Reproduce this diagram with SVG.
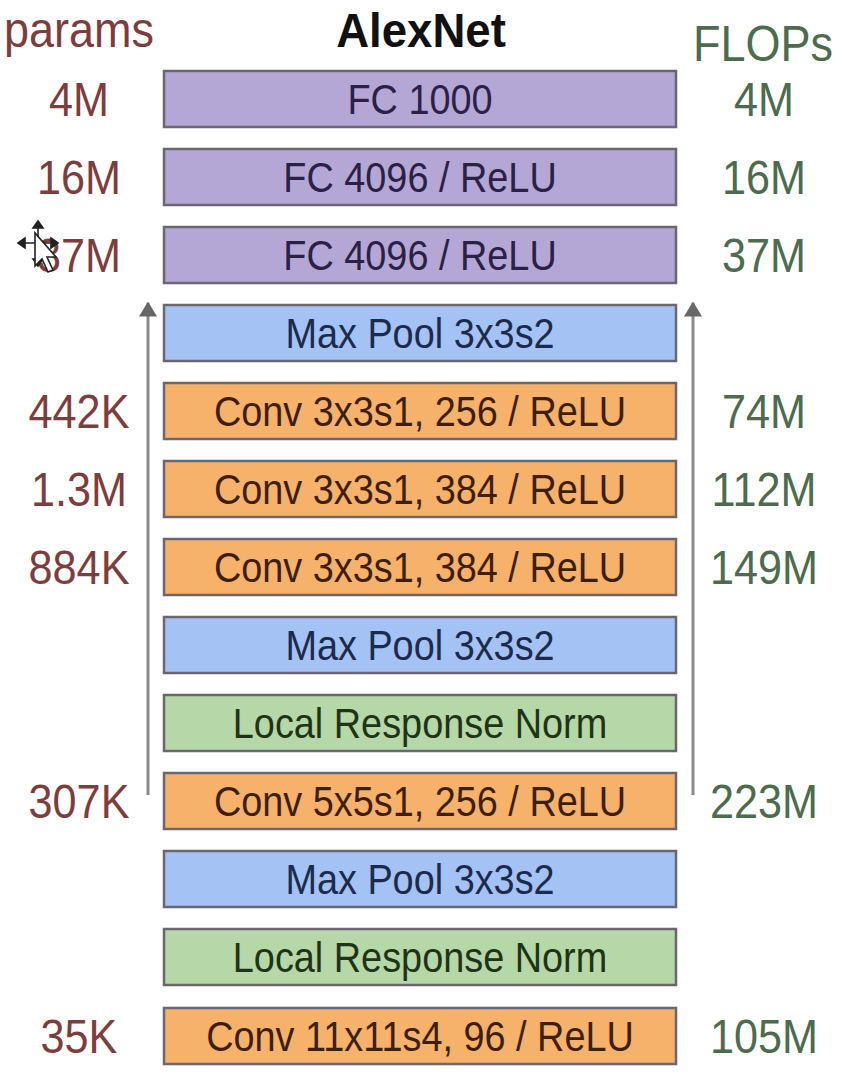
<svg xmlns="http://www.w3.org/2000/svg" width="844" height="1078" viewBox="0 0 844 1078">
  <defs>
    <style>
      .box { stroke: #6b6670; stroke-width: 2.5; }
      .fc { fill: #b4a7d6; }
      .pool { fill: #a4c2f4; }
      .conv { fill: #f6b26b; }
      .norm { fill: #b6d7a8; }
      text { font-family: "Liberation Sans", Arial, sans-serif; text-anchor: middle; }
      .lbl { font-size: 43px; }
      .side { font-size: 48px; }
      .head { font-size: 50px; }
      .par { fill: #7e3d3d; }
      .flo { fill: #4d6b4d; }
      .tfc { fill: #2a2145; }
      .tpool { fill: #1c2b4d; }
      .tconv { fill: #3e1f0c; }
      .tnorm { fill: #1f3315; }
      .arrow { stroke: #8a8a8a; stroke-width: 3; fill: none; }
    </style>
    <marker id="head" viewBox="0 0 10 12" refX="9" refY="6" markerWidth="7" markerHeight="6" orient="auto" markerUnits="strokeWidth">
      <path d="M0,0 L10,6 L0,12 z" fill="#676767"/>
    </marker>
  </defs>

  <rect width="844" height="1078" fill="#ffffff"/>

  <!-- column headings -->
  <g id="headings">
    <text class="head par" transform="translate(79,47) scale(0.9,1)">params</text>
    <text font-size="48" font-weight="bold" fill="#111" transform="translate(421,47) scale(0.95,1)">AlexNet</text>
    <text class="head flo" transform="translate(763,61) scale(0.9,1)">FLOPs</text>
  </g>

  <!-- data flow connectors -->
  <g id="connectors">
    <line class="arrow" x1="148" y1="795" x2="148" y2="303" marker-end="url(#head)"/>
    <line class="arrow" x1="693" y1="795" x2="693" y2="303" marker-end="url(#head)"/>
  </g>

  <!-- layers, top to bottom -->
  <g id="fc1000">
    <rect class="box fc" x="164" y="71" width="512" height="56"/>
    <text class="lbl tfc" transform="translate(420,114) scale(0.88,1)">FC 1000</text>
    <text class="side par" transform="translate(79,116) scale(0.9,1)">4M</text>
    <text class="side flo" transform="translate(764,116) scale(0.9,1)">4M</text>
  </g>
  <g id="fc4096b">
    <rect class="box fc" x="164" y="149" width="512" height="56"/>
    <text class="lbl tfc" transform="translate(420,192) scale(0.88,1)">FC 4096 / ReLU</text>
    <text class="side par" transform="translate(79,194) scale(0.9,1)">16M</text>
    <text class="side flo" transform="translate(764,194) scale(0.9,1)">16M</text>
  </g>
  <g id="fc4096a">
    <rect class="box fc" x="164" y="227" width="512" height="56"/>
    <text class="lbl tfc" transform="translate(420,270) scale(0.88,1)">FC 4096 / ReLU</text>
    <text class="side par" transform="translate(79,272) scale(0.9,1)">37M</text>
    <text class="side flo" transform="translate(764,272) scale(0.9,1)">37M</text>
  </g>
  <g id="pool3">
    <rect class="box pool" x="164" y="305" width="512" height="56"/>
    <text class="lbl tpool" transform="translate(420,348) scale(0.88,1)">Max Pool 3x3s2</text>
  </g>
  <g id="conv5">
    <rect class="box conv" x="164" y="383" width="512" height="56"/>
    <text class="lbl tconv" transform="translate(420,426) scale(0.88,1)">Conv 3x3s1, 256 / ReLU</text>
    <text class="side par" transform="translate(79,428) scale(0.9,1)">442K</text>
    <text class="side flo" transform="translate(764,428) scale(0.9,1)">74M</text>
  </g>
  <g id="conv4">
    <rect class="box conv" x="164" y="461" width="512" height="56"/>
    <text class="lbl tconv" transform="translate(420,504) scale(0.88,1)">Conv 3x3s1, 384 / ReLU</text>
    <text class="side par" transform="translate(79,506) scale(0.9,1)">1.3M</text>
    <text class="side flo" transform="translate(764,506) scale(0.9,1)">112M</text>
  </g>
  <g id="conv3">
    <rect class="box conv" x="164" y="539" width="512" height="56"/>
    <text class="lbl tconv" transform="translate(420,582) scale(0.88,1)">Conv 3x3s1, 384 / ReLU</text>
    <text class="side par" transform="translate(79,584) scale(0.9,1)">884K</text>
    <text class="side flo" transform="translate(764,584) scale(0.9,1)">149M</text>
  </g>
  <g id="pool2">
    <rect class="box pool" x="164" y="617" width="512" height="56"/>
    <text class="lbl tpool" transform="translate(420,660) scale(0.88,1)">Max Pool 3x3s2</text>
  </g>
  <g id="norm2">
    <rect class="box norm" x="164" y="695" width="512" height="56"/>
    <text class="lbl tnorm" transform="translate(420,738) scale(0.88,1)">Local Response Norm</text>
  </g>
  <g id="conv2">
    <rect class="box conv" x="164" y="773" width="512" height="56"/>
    <text class="lbl tconv" transform="translate(420,816) scale(0.88,1)">Conv 5x5s1, 256 / ReLU</text>
    <text class="side par" transform="translate(79,818) scale(0.9,1)">307K</text>
    <text class="side flo" transform="translate(764,818) scale(0.9,1)">223M</text>
  </g>
  <g id="pool1">
    <rect class="box pool" x="164" y="851" width="512" height="56"/>
    <text class="lbl tpool" transform="translate(420,894) scale(0.88,1)">Max Pool 3x3s2</text>
  </g>
  <g id="norm1">
    <rect class="box norm" x="164" y="929" width="512" height="56"/>
    <text class="lbl tnorm" transform="translate(420,972) scale(0.88,1)">Local Response Norm</text>
  </g>
  <g id="conv1">
    <rect class="box conv" x="164" y="1008" width="512" height="56"/>
    <text class="lbl tconv" transform="translate(420,1051) scale(0.88,1)">Conv 11x11s4, 96 / ReLU</text>
    <text class="side par" transform="translate(79,1053) scale(0.9,1)">35K</text>
    <text class="side flo" transform="translate(764,1053) scale(0.9,1)">105M</text>
  </g>

  <!-- move/pointer cursor resting over the left column -->
  <g id="cursor" stroke="#222" stroke-width="1.6" fill="#ffffff">
    <path d="M38,221 L33,228 L43,228 Z M38,266 L33,259 L43,259 Z M18,243 L25,238 L25,248 Z M58,243 L51,238 L51,248 Z" fill="#222"/>
    <line x1="38" y1="225" x2="38" y2="262"/>
    <line x1="22" y1="243" x2="55" y2="243"/>
    <path d="M35,233 L35,266 L42,259 L48,272 L53,270 L47,257 L56,257 Z"/>
  </g>
</svg>
